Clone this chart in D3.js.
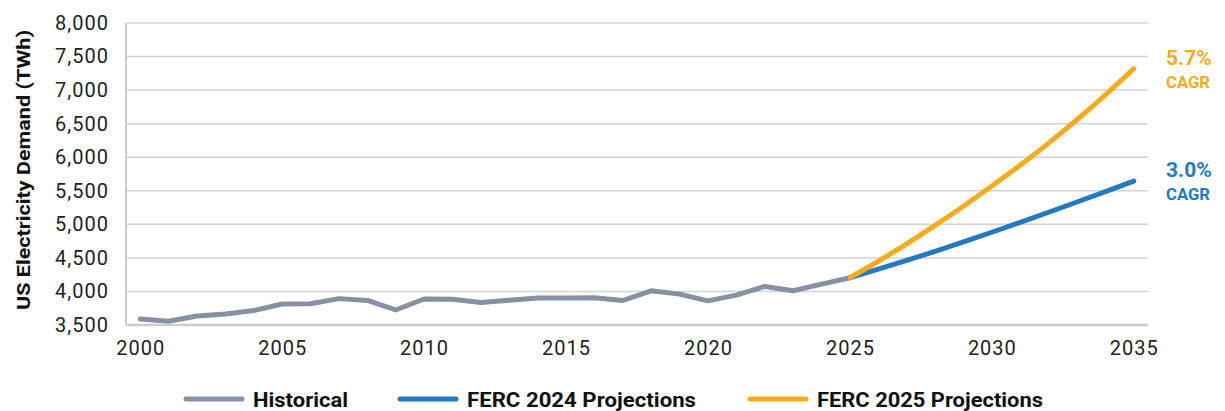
<html>
<head>
  <meta charset="utf-8" />
  <style>
    body { margin: 0; background: #fff; }
    text { font-family: Roboto, "Noto Sans", sans-serif; }
  </style>
</head>
<body>
  <svg id="chart" width="1225" height="411"></svg>
</body>
<script src="https://cdn.jsdelivr.net/npm/d3@7"></script>
<script>

// values (TWh)
const years = d3.range(2000, 2036)
const yTicks = [3500, 4000, 4500, 5000, 5500, 6000, 6500, 7000, 7500, 8000]
const xTicks = [2000, 2005, 2010, 2015, 2020, 2025, 2030, 2035]

const histYears = [2000, 2001, 2002, 2003, 2004, 2005, 2006, 2007, 2008, 2009, 2010, 2011, 2012,
  2013, 2014, 2015, 2016, 2017, 2018, 2019, 2020, 2021, 2022, 2023, 2024, 2025]
const histValues = [3590, 3555, 3635, 3665, 3715, 3812, 3817, 3893, 3866, 3724, 3888, 3884, 3835,
  3868, 3904, 3904, 3905, 3865, 4010, 3960, 3860, 3945, 4075, 4010, 4110, 4205]

const projYears = [2025, 2026, 2027, 2028, 2029, 2030, 2031, 2032, 2033, 2034, 2035]
const ferc2024 = [4205, 4332, 4462, 4598, 4738, 4882, 5030, 5180, 5333, 5488, 5645]
const ferc2025 = [4205, 4450, 4710, 4985, 5270, 5570, 5880, 6210, 6560, 6930, 7320]

const seriesNames = ['Historical', 'FERC 2024 Projections', 'FERC 2025 Projections']
const seriesColors = ['#8891a3', '#2479c1', '#f4ab1d']
const cagrLabels = [null, '3.0%', '5.7%']

const svg = d3.select('#chart')
const margin = {left: 126, right: 77, top: 23, bottom: 86}
const W = 1225, H = 411

const x = d3.scalePoint()
  .domain(years)
  .range([margin.left, W - margin.right])
  .padding(0.5)

const y = d3.scaleLinear()
  .domain([3500, 8000])
  .range([H - margin.bottom, margin.top])

// grid
svg.append('g')
  .selectAll('line')
  .data(yTicks.slice(1))
  .join('line')
  .attr('x1', margin.left).attr('x2', W - margin.right)
  .attr('y1', d => y(d)).attr('y2', d => y(d))
  .attr('stroke', '#d4d4d4').attr('stroke-width', 1.5)

// axis lines
svg.append('line')
  .attr('x1', margin.left).attr('x2', margin.left)
  .attr('y1', margin.top).attr('y2', y(3500))
  .attr('stroke', '#cccccc').attr('stroke-width', 2)
svg.append('line')
  .attr('x1', margin.left).attr('x2', W - margin.right)
  .attr('y1', y(3500)).attr('y2', y(3500))
  .attr('stroke', '#cccccc').attr('stroke-width', 2.5)

// y ticks
const yAxis = svg.append('g')
  .attr('transform', `translate(${margin.left - 17},0)`)
  .call(d3.axisLeft(y).tickValues(yTicks).tickFormat(d3.format(',')).tickSize(0).tickPadding(0))
yAxis.select('.domain').remove()
yAxis.selectAll('text')
  .attr('font-size', 20).attr('fill', '#222').attr('letter-spacing', 1)
  .attr('font-family', 'Roboto, sans-serif')

// x ticks
const xAxis = svg.append('g')
  .attr('transform', `translate(0,${y(3500)})`)
  .call(d3.axisBottom(x).tickValues(xTicks).tickSize(0).tickPadding(16))
xAxis.select('.domain').remove()
xAxis.selectAll('text')
  .attr('font-size', 20).attr('fill', '#222').attr('letter-spacing', 1)
  .attr('font-family', 'Roboto, sans-serif')

// y label
svg.append('text')
  .attr('transform', `translate(30,170) rotate(-90)`)
  .attr('text-anchor', 'middle')
  .attr('font-size', 19).attr('font-weight', 700).attr('fill', '#111')
  .attr('textLength', 280).attr('lengthAdjust', 'spacingAndGlyphs')
  .text('US Electricity Demand (TWh)')

const line = d3.line()
  .x(d => x(d[0]))
  .y(d => y(d[1]))
  .curve(d3.curveMonotoneX)

const lineData = [
  d3.zip(histYears, histValues),
  d3.zip(projYears, ferc2024),
  d3.zip(projYears, ferc2025)
]

svg.append('path')
  .attr('d', d3.line().x(d => x(d[0])).y(d => y(d[1]))(lineData[0]))
  .attr('fill', 'none').attr('stroke', seriesColors[0])
  .attr('stroke-width', 5).attr('stroke-linecap', 'round').attr('stroke-linejoin', 'round')

svg.selectAll('.proj')
  .data([1, 2])
  .join('path')
  .attr('class', 'proj')
  .attr('d', i => line(lineData[i]))
  .attr('fill', 'none').attr('stroke', i => seriesColors[i])
  .attr('stroke-width', 5).attr('stroke-linecap', 'round')

// CAGR notes
const notes = svg.selectAll('.note')
  .data([1, 2])
  .join('g')
  .attr('class', 'note')
  .attr('transform', i => `translate(1166,${y(lineData[i][lineData[i].length - 1][1]) - 4})`)
notes.append('text')
  .attr('font-size', 21).attr('font-weight', 700)
  .attr('fill', i => seriesColors[i])
  .text(i => cagrLabels[i])
notes.append('text')
  .attr('y', 23)
  .attr('font-size', 16).attr('font-weight', 700)
  .attr('fill', i => seriesColors[i])
  .attr('textLength', 44).attr('lengthAdjust', 'spacingAndGlyphs')
  .text('CAGR')

// legend
const legendX = [186, 400, 750]
const legendW = [95, 229, 226]
const leg = svg.selectAll('.leg')
  .data(seriesNames)
  .join('g')
  .attr('class', 'leg')
  .attr('transform', (d, i) => `translate(${legendX[i]},399)`)
leg.append('line')
  .attr('x1', 0).attr('x2', 56)
  .attr('stroke', (d, i) => seriesColors[i])
  .attr('stroke-width', 5).attr('stroke-linecap', 'round')
leg.append('text')
  .attr('x', 67).attr('dy', '0.36em')
  .attr('font-size', 21).attr('font-weight', 700).attr('fill', '#111')
  .attr('textLength', (d, i) => legendW[i]).attr('lengthAdjust', 'spacingAndGlyphs')
  .text(d => d)

</script>
</html>
